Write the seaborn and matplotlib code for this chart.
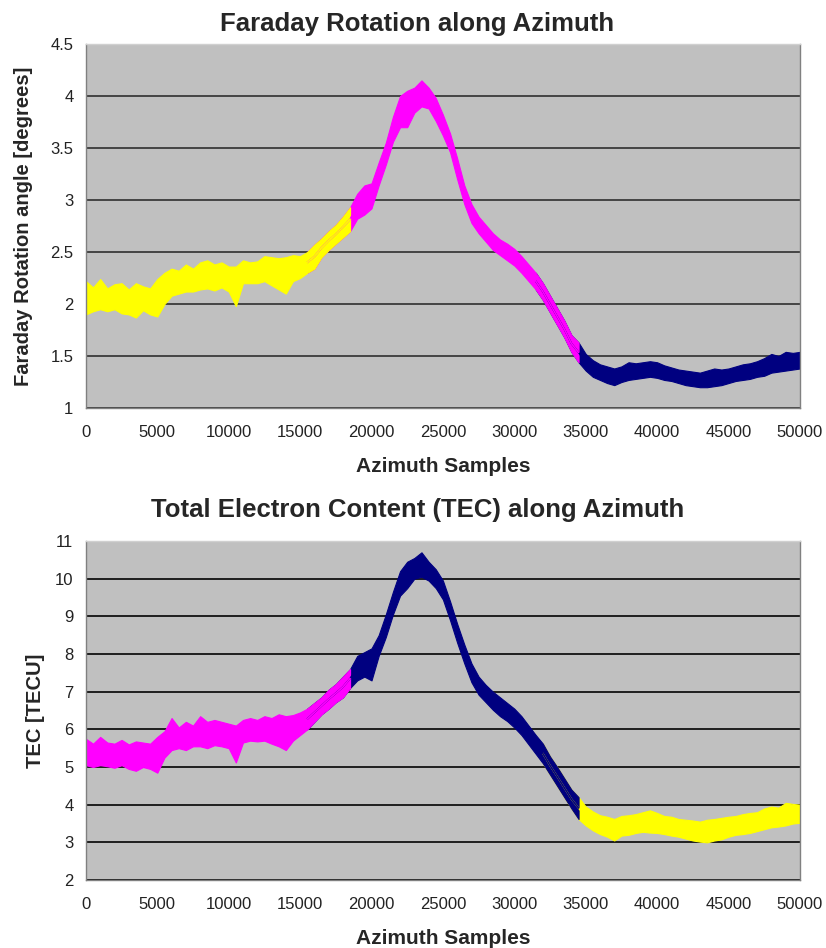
import numpy as np
import pandas as pd
import seaborn as sns
import matplotlib.pyplot as plt

# azimuth sample positions (every 500 samples)
samples = list(range(0, 50001, 500))

# Faraday rotation [deg]: upper / lower edge of the noisy trace
fr_hi = [2.22, 2.16, 2.24, 2.15, 2.19, 2.20, 2.14, 2.20, 2.17, 2.15,
         2.24, 2.30, 2.34, 2.32, 2.38, 2.34, 2.40, 2.42, 2.38, 2.40,
         2.36, 2.36, 2.42, 2.40, 2.41, 2.46, 2.45, 2.44, 2.45, 2.47,
         2.46, 2.50, 2.57, 2.63, 2.70, 2.76, 2.84, 2.93, 3.06, 3.14,
         3.16, 3.36, 3.55, 3.80, 4.00, 4.05, 4.08, 4.15, 4.08, 3.98,
         3.82, 3.64, 3.40, 3.14, 2.96, 2.84, 2.76, 2.68, 2.62, 2.58,
         2.53, 2.46, 2.38, 2.30, 2.20, 2.08, 1.96, 1.84, 1.70, 1.63,
         1.52, 1.46, 1.42, 1.40, 1.38, 1.40, 1.44, 1.43, 1.44, 1.45,
         1.44, 1.41, 1.39, 1.37, 1.36, 1.35, 1.34, 1.36, 1.38, 1.37,
         1.38, 1.40, 1.42, 1.43, 1.45, 1.48, 1.52, 1.50, 1.54, 1.53,
         1.54]
fr_lo = [1.90, 1.93, 1.95, 1.93, 1.95, 1.91, 1.90, 1.87, 1.94, 1.90,
         1.88, 2.00, 2.08, 2.10, 2.12, 2.12, 2.14, 2.15, 2.13, 2.16,
         2.12, 1.98, 2.20, 2.20, 2.20, 2.22, 2.18, 2.14, 2.10, 2.22,
         2.25, 2.30, 2.34, 2.45, 2.52, 2.58, 2.64, 2.70, 2.82, 2.86,
         2.92, 3.14, 3.34, 3.56, 3.70, 3.70, 3.84, 3.90, 3.88, 3.76,
         3.62, 3.46, 3.20, 2.96, 2.78, 2.68, 2.60, 2.52, 2.47, 2.42,
         2.37, 2.30, 2.22, 2.14, 2.04, 1.92, 1.80, 1.68, 1.54, 1.44,
         1.36, 1.30, 1.27, 1.24, 1.22, 1.25, 1.27, 1.28, 1.29, 1.30,
         1.29, 1.27, 1.26, 1.24, 1.22, 1.21, 1.20, 1.20, 1.21, 1.22,
         1.24, 1.26, 1.27, 1.28, 1.30, 1.31, 1.34, 1.35, 1.36, 1.37,
         1.38]

# TEC [TECU]: upper / lower edge of the noisy trace
tec_hi = [5.75, 5.62, 5.80, 5.65, 5.62, 5.72, 5.60, 5.68, 5.65, 5.62,
          5.80, 5.95, 6.30, 6.05, 6.20, 6.10, 6.35, 6.20, 6.25, 6.20,
          6.15, 6.10, 6.25, 6.30, 6.25, 6.35, 6.30, 6.40, 6.35, 6.38,
          6.45, 6.55, 6.70, 6.85, 7.05, 7.20, 7.40, 7.60, 7.95, 8.05,
          8.15, 8.50, 9.05, 9.65, 10.20, 10.45, 10.55, 10.70, 10.45, 10.25,
          9.95, 9.40, 8.80, 8.25, 7.75, 7.40, 7.18, 7.00, 6.85, 6.70,
          6.55, 6.35, 6.10, 5.85, 5.62, 5.28, 5.00, 4.70, 4.40, 4.20,
          3.95, 3.82, 3.72, 3.68, 3.62, 3.70, 3.72, 3.75, 3.80, 3.85,
          3.78, 3.70, 3.68, 3.62, 3.60, 3.58, 3.55, 3.60, 3.62, 3.65,
          3.68, 3.70, 3.75, 3.78, 3.80, 3.90, 3.95, 3.92, 4.05, 4.02,
          4.00]
tec_lo = [5.05, 5.00, 5.05, 5.02, 4.98, 5.05, 4.95, 4.90, 5.00, 4.95,
          4.85, 5.25, 5.45, 5.50, 5.45, 5.55, 5.55, 5.50, 5.58, 5.55,
          5.50, 5.12, 5.65, 5.70, 5.68, 5.70, 5.62, 5.55, 5.45, 5.70,
          5.85, 6.00, 6.20, 6.40, 6.55, 6.72, 6.85, 7.10, 7.30, 7.40,
          7.30, 7.95, 8.45, 9.05, 9.55, 9.75, 10.00, 10.05, 9.95, 9.75,
          9.45, 8.90, 8.30, 7.75, 7.25, 6.92, 6.72, 6.52, 6.35, 6.22,
          6.05, 5.85, 5.60, 5.35, 5.10, 4.80, 4.50, 4.20, 3.90, 3.62,
          3.45, 3.32, 3.22, 3.15, 3.05, 3.18, 3.20, 3.25, 3.28, 3.26,
          3.25, 3.22, 3.18, 3.15, 3.10, 3.05, 3.02, 3.00, 3.05, 3.08,
          3.15, 3.20, 3.22, 3.25, 3.30, 3.35, 3.40, 3.42, 3.45, 3.50,
          3.52]

# sample range and colour of each of the three overlapping segments (last drawn on top)
fr_segments = [(31500, 50000, '#000080'), (15500, 34500, '#FF00FF'), (0, 18500, '#FFFF00')]
tec_segments = [(32000, 50000, '#FFFF00'), (15500, 34500, '#000080'), (0, 18500, '#FF00FF')]

xticks = list(range(0, 50001, 5000))
fr_yticks = [1, 1.5, 2, 2.5, 3, 3.5, 4, 4.5]
tec_yticks = list(range(2, 12))

sns.set_theme(style='white')
plt.rcParams['font.family'] = ['Liberation Sans', 'DejaVu Sans']

fig = plt.figure(figsize=(8.26, 9.48), dpi=100)
ax1 = fig.add_axes([0.104, 0.5696, 0.8644, 0.384])
ax2 = fig.add_axes([0.104, 0.0717, 0.8644, 0.3576])


def draw_panel(ax, hi, lo, segments, yticks, ylabel, gridcolor, ylab_x, xlab_y):
    df = pd.DataFrame({'sample': samples + samples, 'value': hi + lo})
    for start, end, c in segments:
        seg = df[(df['sample'] >= start) & (df['sample'] <= end)]
        sns.lineplot(data=seg, x='sample', y='value', estimator='mean',
                     errorbar=('pi', 100), color=c, linewidth=1.2,
                     err_kws={'alpha': 1, 'linewidth': 0.8, 'edgecolor': c}, ax=ax)
    ax.set_facecolor('#C0C0C0')
    ax.set_xlim(0, 50000)
    ax.set_ylim(yticks[0], yticks[-1])
    ax.set_xticks(xticks)
    ax.set_xticklabels([str(t) for t in xticks])
    ax.set_yticks(yticks)
    ax.set_yticklabels([f'{t:g}' for t in yticks])
    ax.grid(axis='y', color=gridcolor, linewidth=1.3)
    ax.set_axisbelow(True)
    for s in ax.spines.values():
        s.set_color('#808080')
        s.set_linewidth(1)
    ax.spines['top'].set_color('#D0D0D0')
    ax.tick_params(axis='both', direction='out', length=5, width=1, color='#808080',
                   labelsize=12, labelcolor='#222222', pad=4)
    ax.tick_params(axis='x', pad=7)
    ax.set_xlabel('Azimuth Samples', fontsize=15, fontweight='bold')
    ax.set_ylabel(ylabel, fontsize=14.5, fontweight='bold')
    ax.yaxis.set_label_coords(ylab_x, 0.5)
    ax.xaxis.set_label_coords(0.5, xlab_y)


draw_panel(ax1, fr_hi, fr_lo, fr_segments, fr_yticks,
           'Faraday Rotation angle [degrees]', '#3A3A3A', -0.074, -0.135)
draw_panel(ax2, tec_hi, tec_lo, tec_segments, tec_yticks, 'TEC [TECU]', '#111111',
           -0.057, -0.143)

fig.text(0.505, 0.975, 'Faraday Rotation along Azimuth', ha='center', va='center',
         fontsize=18.5, fontweight='bold')
fig.text(0.505, 0.462, 'Total Electron Content (TEC) along Azimuth', ha='center',
         va='center', fontsize=18.5, fontweight='bold')

fig.savefig('out.png', dpi=100, facecolor='white')
